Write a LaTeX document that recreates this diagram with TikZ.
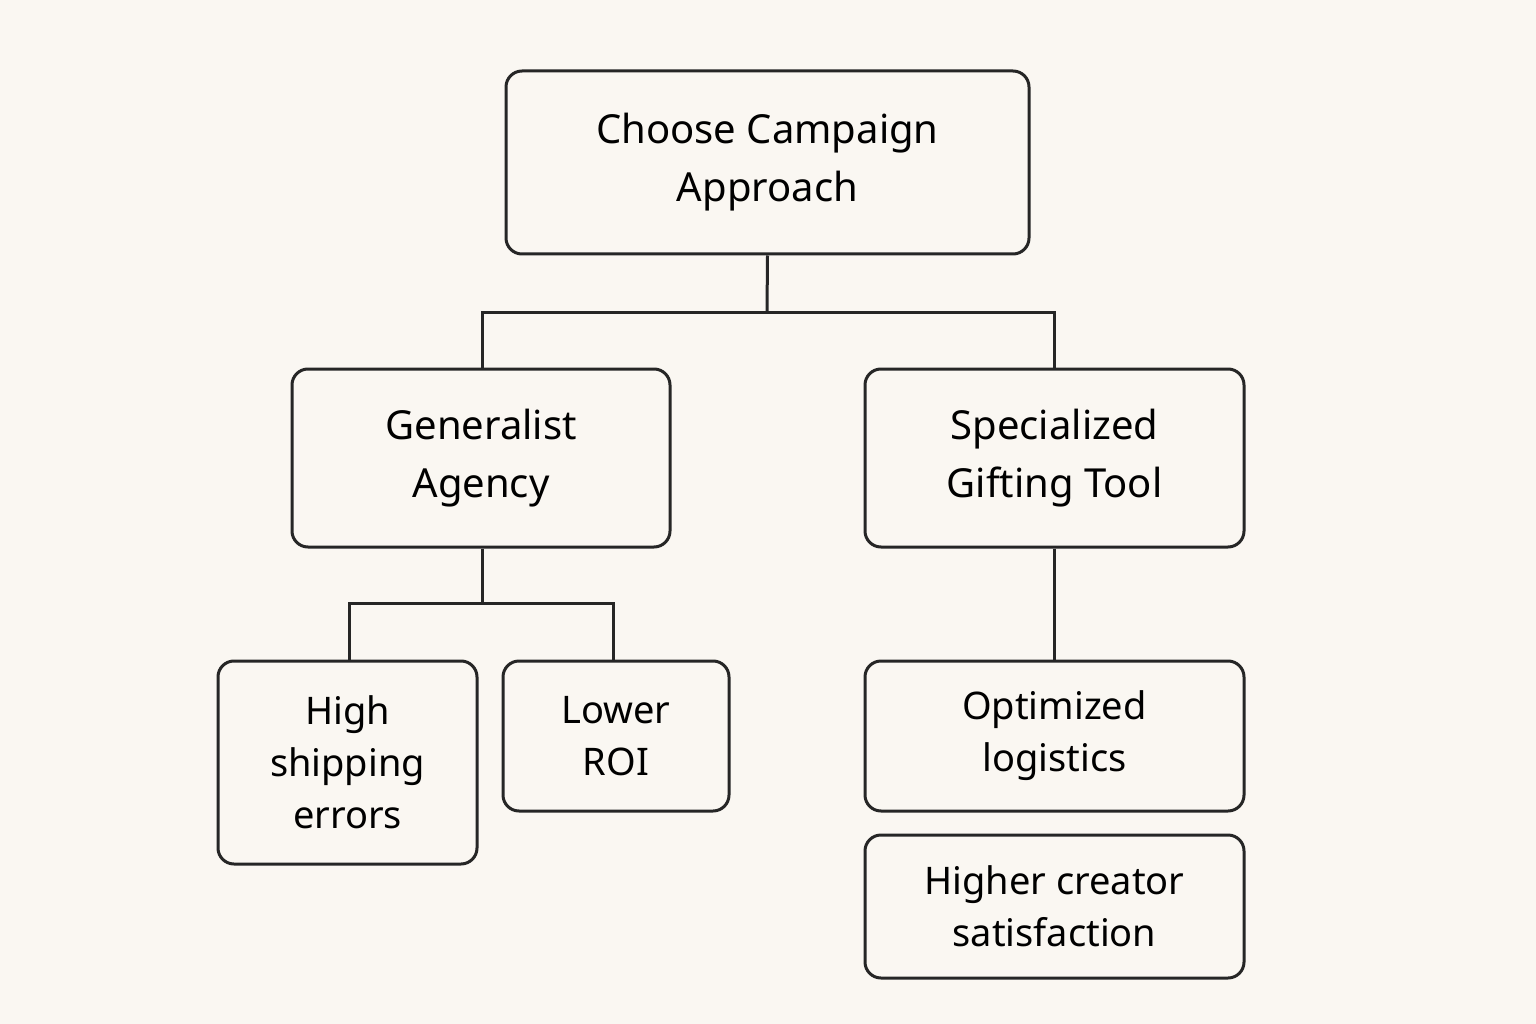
\documentclass[tikz,border=0pt]{standalone}
\usepackage{fontspec}
\setmainfont{Noto Sans}
\begin{document}
\begin{tikzpicture}[x=1pt,y=-1pt,
  box/.style={draw=black!85,line width=3pt,rounded corners=16pt,fill=none,align=center,inner sep=0pt},
  big/.style={font=\fontsize{40}{58}\selectfont},
  sml/.style={font=\fontsize{38}{52}\selectfont},
  ln/.style={draw=black!85,line width=3pt}]
\fill[fill={rgb,255:red,250;green,247;blue,242}] (0,0) rectangle (1536,1024);
\useasboundingbox (0,0) rectangle (1536,1024);
\node[box,big,minimum width=523pt,minimum height=183pt] (top) at (767.5,162.5) {Choose Campaign\\Approach};
\node[box,big,minimum width=378pt,minimum height=178pt] (gen) at (481,458) {Generalist\\Agency};
\node[box,big,minimum width=379pt,minimum height=178pt] (spe) at (1054.5,458) {Specialized\\Gifting Tool};
\node[box,sml,minimum width=259pt,minimum height=203pt] (high) at (347.5,762.5) {High\\shipping\\errors};
\node[box,sml,minimum width=226pt,minimum height=150pt] (low) at (616,736) {Lower\\ROI};
\node[box,sml,minimum width=379pt,minimum height=150pt] (opt) at (1054.5,736) {Optimized\\logistics};
\node[box,sml,minimum width=379pt,minimum height=143pt] (sat) at (1054.5,906.5) {Higher creator\\satisfaction};
\coordinate (j1) at (767,312);
\coordinate (j2) at (482,603);
\draw[ln] (top.south) -- (j1);
\draw[ln] (gen.north -| 482,0) |- (j1) -| (spe.north);
\draw[ln] (gen.south -| j2) -- (j2);
\draw[ln] (high.north -| 349,0) |- (j2) -| (low.north -| 613,0);
\draw[ln] (spe.south) -- (opt.north);
\end{tikzpicture}
\end{document}
